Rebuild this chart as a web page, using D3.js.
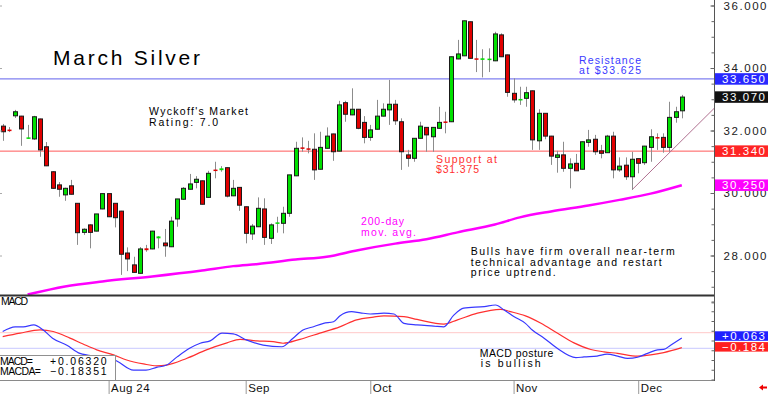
<html lang="en">
<head>
<meta charset="utf-8">
<title>March Silver</title>
<script src="https://d3js.org/d3.v7.min.js"></script>
<style>
  body { margin: 0; background: #fff; }
  svg { display: block; font-family: "Liberation Sans", Arial, sans-serif; }
</style>
</head>
<body>
<script>
// daily bars (index 0 = first bar on the left)
var opens  = [32.14,32.03,32.47,32.46,31.75,31.73,32.37,31.48,30.68,30.26,29.94,30.23,29.67,28.74,28.98,28.78,29.49,29.98,29.67,29.42,
              28.08,27.70,27.43,28.23,28.21,28.55,28.40,28.28,29.17,29.80,30.12,30.34,30.39,29.86,30.75,30.73,30.81,29.91,30.18,29.56,
              28.69,28.92,29.49,28.55,29.02,29.03,29.35,30.55,31.46,31.43,31.40,30.76,31.43,31.89,31.34,32.89,32.50,32.68,32.26,31.78,
              32.04,32.46,32.66,32.84,32.28,31.22,31.11,31.75,32.10,31.80,32.07,32.29,32.28,34.29,34.39,35.48,34.31,34.26,34.28,34.23,
              35.06,34.42,33.19,32.99,33.03,33.27,31.67,32.55,31.82,31.14,31.22,30.79,30.95,30.76,31.62,31.72,31.35,31.29,31.82,30.74,
              30.89,30.52,31.10,30.97,31.46,31.79,31.78,31.46,32.42,32.63];
var highs  = [32.21,32.11,32.66,32.47,32.18,32.47,32.38,31.63,30.70,30.35,30.17,30.42,29.68,28.87,29.00,29.33,29.98,29.98,29.68,29.43,
              28.26,27.96,28.27,28.34,28.79,28.62,28.85,29.24,29.81,30.19,30.61,30.54,30.40,30.71,31.00,30.86,30.82,30.42,30.19,29.57,
              29.01,29.86,29.83,29.03,29.24,29.56,30.58,31.64,31.78,31.67,31.91,31.96,32.10,31.90,32.95,32.95,33.35,32.69,32.46,32.18,
              32.98,32.87,33.62,32.98,32.39,31.38,31.76,32.28,32.11,32.11,32.76,32.60,34.37,34.90,35.52,35.49,34.90,34.60,34.63,35.16,
              35.11,34.43,33.67,33.40,33.40,33.28,32.68,32.56,31.83,31.35,31.64,31.11,31.25,31.65,32.02,31.86,31.54,31.86,31.96,31.14,
              31.14,31.32,31.11,31.51,32.04,31.91,31.91,32.92,32.76,33.14];
var lows   = [31.67,31.95,32.40,31.51,31.73,31.70,31.16,30.86,30.13,29.88,29.75,29.95,28.34,28.66,28.23,28.77,29.48,29.23,28.90,27.38,
              27.50,27.45,27.42,28.12,28.20,28.23,27.96,28.27,28.92,29.78,30.11,30.15,29.63,29.85,30.47,30.68,29.86,29.90,29.43,28.39,
              28.50,28.91,28.34,28.37,28.73,28.71,29.24,30.54,31.32,31.27,30.42,30.75,31.42,31.03,31.33,32.28,32.49,32.04,31.59,31.67,
              32.03,32.45,32.18,32.18,30.74,30.84,31.00,31.74,31.32,31.32,32.06,31.91,32.27,34.28,34.38,34.30,33.87,33.70,33.87,34.22,
              34.35,33.08,32.89,32.82,32.76,31.38,31.38,31.72,30.90,30.65,30.68,30.15,30.71,30.75,31.48,31.22,31.11,31.28,30.47,30.68,
              30.42,30.10,30.63,30.90,31.00,31.38,31.29,31.32,32.25,32.39];
var closes = [31.96,31.98,32.60,32.05,31.78,32.44,31.38,30.87,30.15,30.12,30.15,29.96,28.73,28.84,28.74,29.33,29.98,29.24,29.21,28.04,
              27.89,27.46,28.21,28.17,28.78,28.61,28.31,29.10,29.81,30.15,30.29,30.44,29.64,30.63,30.72,30.79,29.90,30.15,29.61,28.71,
              28.94,29.51,28.58,28.98,29.06,29.35,30.58,31.43,31.44,31.41,30.74,31.46,31.82,31.32,32.82,32.52,32.68,32.07,31.78,32.02,
              32.46,32.68,32.84,32.31,31.32,31.11,31.75,32.14,31.86,32.10,32.26,32.27,34.36,34.45,35.51,34.31,34.29,34.31,34.30,35.09,
              34.36,33.22,32.98,33.01,33.21,31.70,32.55,31.82,31.18,31.22,30.79,30.93,30.71,31.64,31.70,31.32,31.27,31.82,30.74,30.86,
              30.52,31.08,30.95,31.50,31.80,31.78,31.46,32.42,32.60,33.07];

// 200-day moving average [bar index, price]
var maPts = [[4,26.75],[10,27.01],[16,27.17],[24,27.33],[32,27.52],[37,27.66],[41,27.73],[47,27.87],[52,27.96],[57,28.17],
             [63,28.38],[68,28.52],[73,28.74],[79,28.99],[83,29.22],[88,29.41],[94,29.60],[99,29.78],[104,29.98],[109,30.25]];
// uptrend line [bar index, price]
var trendPts = [[101,30.10],[114.2,32.71]];
var resistance = 33.65, support = 31.34, lastClose = 33.07, lastMA = 30.25;

// MACD [bar index, value]
var macdPts = [[0,0.23],[2,0.35],[3.3,0.35],[5,0.40],[6.5,0.27],[8,0.06],[10.3,-0.12],[12.4,-0.33],[15.6,-0.42],[18,-0.50],
               [21,-0.76],[23,-0.76],[24.7,-0.69],[26.3,-0.63],[28,-0.42],[30,-0.20],[31.7,-0.07],[33.3,-0.01],[35.2,0.19],[37,0.17],
               [39.2,0.01],[41.8,-0.12],[44.8,-0.16],[46.6,0.06],[48.2,0.27],[49.6,0.34],[51.5,0.44],[53.1,0.48],[54.1,0.63],[56,0.74],
               [57.4,0.71],[59,0.68],[61.2,0.70],[62.8,0.68],[64.4,0.44],[66.5,0.40],[69.2,0.37],[70.8,0.35],[72.4,0.65],[74,0.83],
               [77.3,0.87],[79.1,0.91],[80.5,0.78],[82.1,0.61],[83.9,0.44],[85,0.27],[86.9,0.06],[89,-0.20],[92,-0.44],[93.3,-0.42],
               [95.4,-0.40],[97,-0.35],[98.7,-0.40],[100.3,-0.46],[101.9,-0.43],[103.5,-0.33],[105.1,-0.24],[106.1,-0.23],[107.2,-0.12],[109,0.0632]];
var signalPts = [[0,0.10],[2.8,0.19],[6,0.27],[8.1,0.23],[10.8,0.06],[12.9,-0.09],[15.1,-0.24],[17.8,-0.37],[19.9,-0.50],[22.6,-0.60],
                 [24.7,-0.65],[26.3,-0.63],[29.5,-0.46],[32.7,-0.24],[36,-0.06],[38.1,0.03],[40.8,-0.01],[43.4,-0.03],[45,-0.07],[47.7,0.03],
                 [50.9,0.19],[54.1,0.35],[56.8,0.53],[59.5,0.60],[61.2,0.63],[64.4,0.61],[66.5,0.54],[70.8,0.42],[73,0.53],[76.2,0.70],
                 [79.9,0.80],[81.5,0.74],[83.9,0.63],[86.4,0.44],[89,0.19],[91.7,-0.06],[94.4,-0.23],[96.5,-0.29],[98.7,-0.33],[101.9,-0.40],
                 [104,-0.37],[106.1,-0.31],[109,-0.18351]];
var macdRefs = [0.2, -0.2];
var macdLast = 0.0632, signalLast = -0.18351;

// axis ticks
var priceTicks = [28, 30, 32, 34, 36];
var monthIdx = [17, 39, 59, 82, 102];
var monthLbl = ["Aug 24", "Sep", "Oct", "Nov", "Dec"];

//Width and height
var w = 768, h = 396;
var plotR = 714, priceBottom = 295, macdTop = 296, macdBottom = 380;

var xScale = d3.scaleLinear().domain([0, 109]).range([2.7, 681.8]);
var yScale = d3.scaleLinear().domain([28, 36]).range([255.5, 5.5]);
var mScale = d3.scaleLinear().domain([-1, 1]).range([379.5, 301.5]);

var svg = d3.select("body").append("svg").attr("width", w).attr("height", h);

var defs = svg.append("defs");
defs.append("clipPath").attr("id", "cp").append("rect")
    .attr("x", 0).attr("y", 0).attr("width", plotR).attr("height", priceBottom);
defs.append("clipPath").attr("id", "cm").append("rect")
    .attr("x", 0).attr("y", macdTop).attr("width", plotR).attr("height", macdBottom - macdTop);

function label(g, x, y, str, len, size, color) {
  var t = g.append("text").attr("x", x).attr("y", y).text(str)
    .attr("font-size", size).attr("fill", color);
  if (len) t.attr("textLength", len).attr("lengthAdjust", "spacing");
  return t;
}

//----- price pane
var price = svg.append("g").attr("clip-path", "url(#cp)");

price.append("line").attr("x1", 0).attr("x2", plotR)
  .attr("y1", yScale(resistance)).attr("y2", yScale(resistance))
  .attr("stroke", "#8080f0").attr("stroke-width", 1.3);
price.append("line").attr("x1", 0).attr("x2", plotR)
  .attr("y1", yScale(support)).attr("y2", yScale(support))
  .attr("stroke", "#ff5a5a").attr("stroke-width", 1);

var line = d3.line().curve(d3.curveMonotoneX)
  .x(function(d) { return xScale(d[0]); }).y(function(d) { return yScale(d[1]); });

price.append("path").datum(maPts).attr("d", line)
  .attr("fill", "none").attr("stroke", "#ff00ff").attr("stroke-width", 2.5);
price.append("path").datum(trendPts).attr("d", line)
  .attr("fill", "none").attr("stroke", "#b07090").attr("stroke-width", 1);

var bars = opens.map(function(o, i) { return {i: i, o: o, h: highs[i], l: lows[i], c: closes[i]}; });
function cx(d) { return Math.round(xScale(d.i)) + 0.5; }

price.selectAll("line.wick").data(bars).enter().append("line")
  .attr("class", "wick")
  .attr("x1", cx).attr("x2", cx)
  .attr("y1", function(d) { return yScale(d.h); })
  .attr("y2", function(d) { return yScale(d.l); })
  .attr("stroke", "#8c8c8c").attr("stroke-width", 1);

price.selectAll("rect.body").data(bars).enter().append("rect")
  .attr("class", "body")
  .attr("x", function(d) { return cx(d) - 2; })
  .attr("width", 4)
  .attr("y", function(d) { return yScale(Math.max(d.o, d.c)); })
  .attr("height", function(d) { return Math.max(1.5, Math.abs(yScale(d.o) - yScale(d.c))); })
  .attr("fill", function(d) { return d.c >= d.o ? "#00e000" : "#e00000"; })
  .attr("stroke", function(d) { return Math.abs(yScale(d.o) - yScale(d.c)) < 2 ? "none" : "#1a1a1a"; })
  .attr("stroke-width", 1);

// annotations
var ann = svg.append("g");
label(ann, 53, 65, "March Silver", 147, 21, "#000");
label(ann, 149, 115, "Wyckoff's Market", 99, 10.5, "#000");
label(ann, 149, 125.7, "Rating: 7.0", 69, 10.5, "#000");
label(ann, 579, 64, "Resistance", 62, 10.5, "#3a3aff");
label(ann, 579, 74, "at $33.625", 62, 10.5, "#3a3aff");
label(ann, 436, 162.7, "Support at", 61, 10.5, "#ff3030");
label(ann, 436, 172.7, "$31.375", 43, 10.5, "#ff3030");
label(ann, 361, 225, "200-day", 43, 10.5, "#ff00ff");
label(ann, 361, 235.7, "mov. avg.", 55, 10.5, "#ff00ff");
label(ann, 470.7, 255, "Bulls have firm overall near-term", 204, 10.5, "#000");
label(ann, 470.7, 265.6, "technical advantage and restart", 191, 10.5, "#000");
label(ann, 470.7, 276.2, "price uptrend.", 85, 10.5, "#000");

//----- MACD pane
var macd = svg.append("g").attr("clip-path", "url(#cm)");
macd.selectAll("line.ref").data(macdRefs).enter().append("line")
  .attr("x1", 0).attr("x2", plotR)
  .attr("y1", function(d) { return mScale(d); }).attr("y2", function(d) { return mScale(d); })
  .attr("stroke", function(d) { return d > 0 ? "#ffc8c8" : "#c8c8ff"; }).attr("stroke-width", 1);

var mline = d3.line().curve(d3.curveMonotoneX)
  .x(function(d) { return xScale(d[0]); }).y(function(d) { return mScale(d[1]); });
macd.append("path").datum(signalPts).attr("d", mline)
  .attr("fill", "none").attr("stroke", "#ff3030").attr("stroke-width", 1.2);
macd.append("path").datum(macdPts).attr("d", mline)
  .attr("fill", "none").attr("stroke", "#3838ff").attr("stroke-width", 1.2);

label(svg, 1, 305, "MACD", 27, 10.5, "#000");
label(svg, 479.7, 356.7, "MACD posture", 73.6, 10.5, "#000");
label(svg, 480.7, 367.3, "is bullish", 60, 10.5, "#000");

// value legend box
var fmt5 = d3.format("+.5f");
svg.append("rect").attr("x", -1).attr("y", 355.5).attr("width", 116.5).attr("height", 25)
  .attr("fill", "#fff").attr("stroke", "#909090").attr("stroke-width", 1);
label(svg, 0, 364.5, "MACD=", 33, 10.5, "#000");
label(svg, 0, 375, "MACDA=", 41, 10.5, "#000");
label(svg, 50, 364.5, fmt5(macdLast), 56.7, 10.5, "#000");
label(svg, 50, 375, fmt5(signalLast), 56.7, 10.5, "#000");

//----- frame lines
svg.append("line").attr("x1", 0).attr("x2", plotR).attr("y1", 295.5).attr("y2", 295.5)
  .attr("stroke", "#333").attr("stroke-width", 2);
svg.append("line").attr("x1", 0).attr("x2", plotR).attr("y1", 380.5).attr("y2", 380.5)
  .attr("stroke", "#8a8a8a").attr("stroke-width", 1);
svg.append("line").attr("x1", plotR + 0.5).attr("x2", plotR + 0.5).attr("y1", 0).attr("y2", 381)
  .attr("stroke", "#555").attr("stroke-width", 1);

//----- right price axis
var yAxis = d3.axisRight(yScale).tickValues(priceTicks).tickFormat(d3.format(".3f"))
  .tickSizeInner(-4).tickSizeOuter(0).tickPadding(9);
var ya = svg.append("g").attr("transform", "translate(" + (plotR + 0.5) + ",0)").call(yAxis);
ya.select(".domain").remove();
ya.selectAll("line").attr("stroke", "#666");
ya.selectAll("text").attr("font-family", "Liberation Sans, Arial, sans-serif")
  .attr("font-size", 11.5).attr("fill", "#222").attr("textLength", 43).attr("lengthAdjust", "spacing");

var yMinor = d3.axisRight(yScale).tickValues(d3.range(26.5, 36.01, 0.5)).tickFormat("").tickSizeInner(-3).tickSizeOuter(0);
var ym = svg.append("g").attr("transform", "translate(" + (plotR + 0.5) + ",0)").call(yMinor);
ym.select(".domain").remove();
ym.selectAll("line").attr("stroke", "#666");

var yLeft = d3.axisRight(yScale).tickValues(priceTicks).tickFormat("").tickSizeInner(2).tickSizeOuter(0);
var yl = svg.append("g").attr("transform", "translate(0,0)").call(yLeft);
yl.select(".domain").remove();
yl.selectAll("line").attr("stroke", "#aaa");

// MACD axis ticks
var mAxis = d3.axisRight(mScale).tickValues(d3.range(-1, 1.01, 0.25)).tickFormat("").tickSizeInner(-3).tickSizeOuter(0);
var ma = svg.append("g").attr("transform", "translate(" + (plotR + 0.5) + ",0)").call(mAxis);
ma.select(".domain").remove();
ma.selectAll("line").attr("stroke", "#666");

// value boxes on the right
var boxes = [
  {y: yScale(resistance), txt: d3.format(".3f")(resistance), fill: "#2828ff"},
  {y: yScale(lastClose), txt: d3.format(".3f")(lastClose), fill: "#111"},
  {y: yScale(support), txt: d3.format(".3f")(support), fill: "#ff2424"},
  {y: yScale(lastMA), txt: d3.format(".3f")(lastMA), fill: "#ff00ff"},
  {y: mScale(macdLast) - 2, txt: d3.format("+.3f")(macdLast), fill: "#2020ff", hh: 9.5},
  {y: mScale(signalLast) - 0.8, txt: d3.format(".3f")(signalLast), fill: "#ff2020", hh: 9.5}
];
var bx = svg.selectAll("g.box").data(boxes).enter().append("g").attr("class", "box");
bx.append("rect").attr("x", plotR + 1).attr("width", w - plotR - 1)
  .attr("y", function(d) { return d.y - (d.hh || 11.5) / 2; })
  .attr("height", function(d) { return d.hh || 11.5; })
  .attr("fill", function(d) { return d.fill; });
bx.append("text").attr("x", 722).attr("y", function(d) { return d.y; }).attr("dy", "0.36em")
  .text(function(d) { return d.txt; })
  .attr("font-size", 11.5).attr("fill", "#fff")
  .attr("textLength", 43).attr("lengthAdjust", "spacing");

//----- date axis
var xAxis = d3.axisBottom(xScale).tickValues(monthIdx)
  .tickFormat(function(d, i) { return monthLbl[i]; })
  .tickSizeInner(13).tickSizeOuter(0);
var xa = svg.append("g").attr("transform", "translate(0,381)").call(xAxis);
xa.select(".domain").remove();
xa.selectAll("line").attr("stroke", "#999");
xa.selectAll("text").attr("text-anchor", "start").attr("x", 2).attr("y", 3).attr("dy", "0.71em")
  .attr("font-family", "Liberation Sans, Arial, sans-serif").attr("font-size", 11.5)
  .attr("letter-spacing", 0.4).attr("fill", "#111");

// little red arrow at the bottom right
svg.append("path")
  .attr("d", "M759,387.5 L763,384.5 L763,386.5 L767,386.5 L767,388.5 L763,388.5 L763,390.5 Z")
  .attr("fill", "#ee0000");
</script>
</body>
</html>
